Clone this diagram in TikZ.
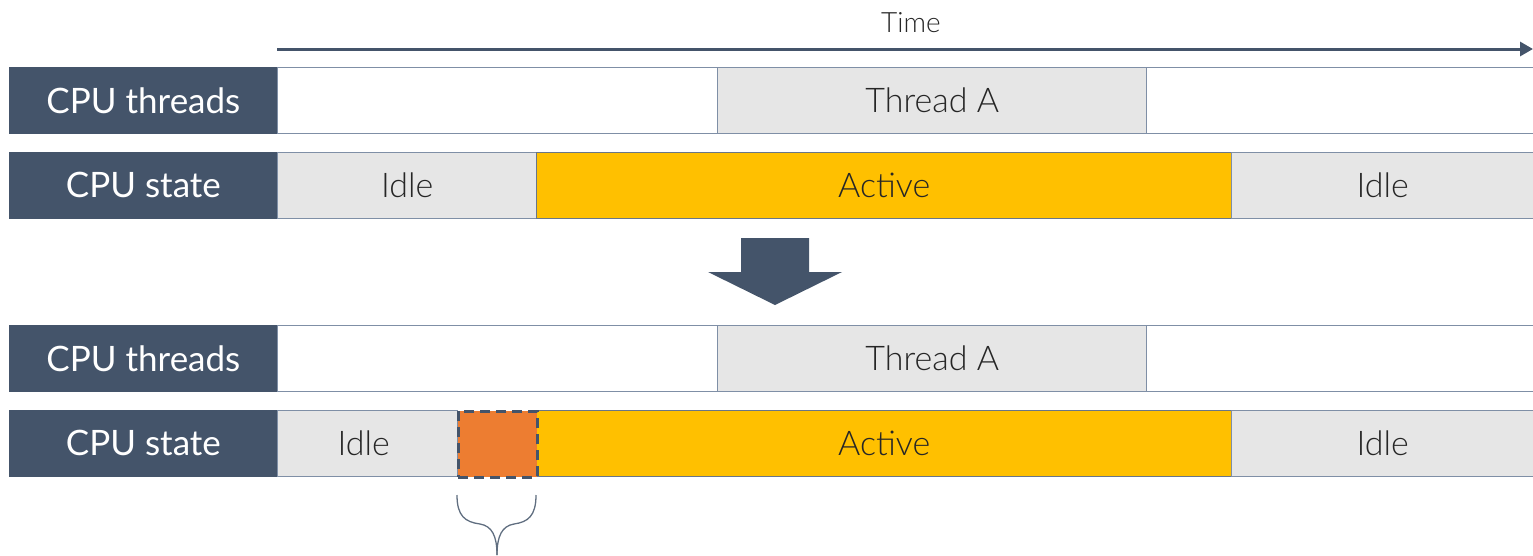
\documentclass[tikz,border=0pt]{standalone}
\usepackage{fontspec}
\setmainfont{Lato}
\newfontfamily\lightfont{Lato Light}
\usetikzlibrary{arrows.meta}
\definecolor{slate}{HTML}{44546A}
\definecolor{edge}{HTML}{7F8FA6}
\definecolor{idlegray}{HTML}{E6E6E6}
\definecolor{activey}{HTML}{FFC000}
\definecolor{warm}{HTML}{ED7D31}
\definecolor{ink}{HTML}{262626}
\tikzset{
  rowlabel/.style={rectangle, anchor=north west, fill=slate, draw=slate, line width=0.8pt,
    minimum height=66pt, minimum width=268pt, inner sep=0pt, text=white,
    font=\fontsize{35}{35}\selectfont},
  seg/.style={rectangle, anchor=north west, draw=edge, line width=1.4pt,
    minimum height=66pt, inner sep=0pt, text=ink,
    font=\lightfont\fontsize{34}{34}\selectfont},
  blank/.style={seg, fill=white},
  idle/.style={seg, fill=idlegray},
  active/.style={seg, fill=activey, draw=slate!80},
  wait/.style={seg, fill=warm, draw=slate, line width=2.8pt, dash pattern=on 10pt off 6pt},
  timeline/.style={slate, line width=3pt, -{Triangle[length=13pt,width=14pt]}},
  brace/.style={slate!85, line width=1.3pt}
}
\begin{document}
\begin{tikzpicture}[x=1pt, y=-1pt]
\useasboundingbox (0,0) rectangle (1533,555);

% time axis
\node[text=ink, font=\lightfont\fontsize{28}{28}\selectfont] (time) at (911,23) {Time};
\coordinate (ts) at (277,49);
\coordinate (te) at (1533,49);
\draw[timeline] (ts) -- (te);

% first pair of rows
\node[rowlabel] (l1) at (9,67) {\raisebox{-2pt}{CPU threads}};
\node[blank, minimum width=440pt] (a1) at (277,67) {};
\node[idle, minimum width=429pt] (a2) at (717,67) {\raisebox{-2pt}{Thread A}};
\node[blank, minimum width=387pt] (a3) at (1146,67) {};

\node[rowlabel] (l2) at (9,152) {\raisebox{-1pt}{CPU state}};
\node[idle, minimum width=259pt] (b1) at (277,152) {Idle};
\node[active, minimum width=695pt] (b2) at (536,152) {Active};
\node[idle, minimum width=302pt] (b3) at (1231,152) {Idle};

% transition arrow
\fill[slate] (741,238) -- (809,238) -- (809,272) -- (842,272) -- (775,305)
  -- (708,272) -- (741,272) -- cycle;

% second pair of rows
\node[rowlabel] (l3) at (9,325) {\raisebox{-2pt}{CPU threads}};
\node[blank, minimum width=440pt] (c1) at (277,325) {};
\node[idle, minimum width=429pt] (c2) at (717,325) {\raisebox{-2pt}{Thread A}};
\node[blank, minimum width=387pt] (c3) at (1146,325) {};

\node[rowlabel] (l4) at (9,410) {\raisebox{-1pt}{CPU state}};
\node[idle, minimum width=180pt] (d1) at (277,410) {\hspace*{-8pt}Idle};
\node[active, minimum width=695pt] (d2) at (536,410) {Active};
\node[idle, minimum width=302pt] (d3) at (1231,410) {Idle};
\node[wait, minimum width=79pt] (d0) at (457,410) {};

% brace under the wake-up interval
\coordinate (bl) at (457,495);
\coordinate (br) at (536,495);
\coordinate (bt) at (497,555);
\draw[brace] (bl) .. controls (457,516) and (465,522) .. (480,524)
  .. controls (492,526) and (497,536) .. (bt);
\draw[brace] (br) .. controls (536,516) and (528,522) .. (514,524)
  .. controls (502,526) and (497,536) .. (bt);
\end{tikzpicture}
\end{document}
